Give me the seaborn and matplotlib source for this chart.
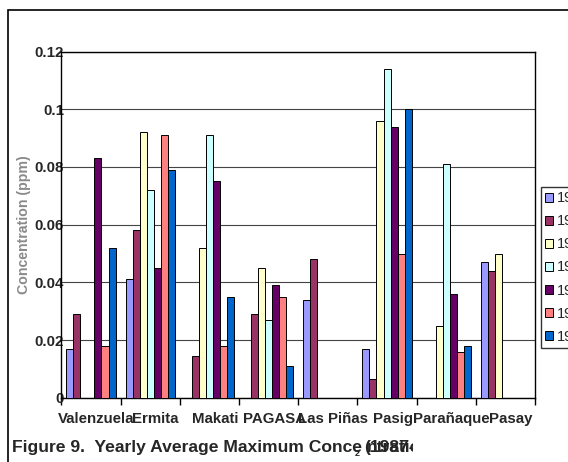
import pandas as pd
import numpy as np
import matplotlib
matplotlib.use('Agg')
import matplotlib.pyplot as plt
import matplotlib.transforms as mtransforms
from matplotlib.patches import Rectangle
import seaborn as sns

# %%
# stations and yearly series (NaN = no bar)
stations = ['Valenzuela', 'Ermita', 'Makati', 'PAGASA', 'Las Piñas', 'Pasig', 'Parañaque', 'Pasay']
years = ['1987', '1988', '1989', '1990', '1991', '1992', '1993']

y1987 = [0.017, 0.041, np.nan, np.nan, 0.034, 0.017, np.nan, 0.047]
y1988 = [0.029, 0.058, 0.0145, 0.029, 0.048, 0.0065, np.nan, 0.044]
y1989 = [np.nan, 0.092, 0.052, 0.045, np.nan, 0.096, 0.025, 0.050]
y1990 = [np.nan, 0.072, 0.091, 0.027, np.nan, 0.114, 0.081, np.nan]
y1991 = [0.083, 0.045, 0.075, 0.039, np.nan, 0.094, 0.036, np.nan]
y1992 = [0.018, 0.091, 0.018, 0.035, np.nan, 0.050, 0.016, np.nan]
y1993 = [0.052, 0.079, 0.035, 0.011, np.nan, 0.100, 0.018, np.nan]

colors = ['#9999FF', '#993366', '#FFFFCC', '#CCFFFF', '#660066', '#FF8080', '#0066CC']

# %%
# long format for seaborn
series = [y1987, y1988, y1989, y1990, y1991, y1992, y1993]
df = pd.DataFrame({
    'station': stations * len(years),
    'year': [y for y in years for _ in stations],
    'conc': [v for s in series for v in s],
})

sns.set_theme(style='white')
plt.rcParams['font.family'] = ['Liberation Sans', 'DejaVu Sans']

fig = plt.figure(figsize=(5.68, 4.62), dpi=100)
ax = fig.add_axes([0.108, 0.139, 0.834, 0.7495])

sns.barplot(data=df, x='station', y='conc', hue='year', order=stations, hue_order=years,
            palette=colors, saturation=1, width=0.83, edgecolor='black', linewidth=0.7,
            ax=ax, zorder=3)

ax.set_ylim(0, 0.12)
ax.set_xlim(-0.5, len(stations) - 0.5)
ax.set_yticks([0, 0.02, 0.04, 0.06, 0.08, 0.1, 0.12])
ax.set_yticklabels(['0', '0.02', '0.04', '0.06', '0.08', '0.1', '0.12'])
ax.yaxis.grid(True, color='#444444', linewidth=0.8, zorder=0)
ax.set_axisbelow(True)
ax.set_xlabel('')
ax.set_ylabel('')

for s in ax.spines.values():
    s.set_color('black')
    s.set_linewidth(1.0)

ax.tick_params(axis='y', length=0, pad=-2, labelsize=10.8)
for t in ax.get_yticklabels():
    t.set_fontweight('bold')
ax.tick_params(axis='x', which='major', length=0, pad=10, labelsize=10.8)
# labels sit a few pixels right of the category centres in the original
shift = mtransforms.ScaledTranslation(5.5 / 100, 0, fig.dpi_scale_trans)
for t in ax.get_xticklabels():
    t.set_fontweight('bold')
    t.set_transform(t.get_transform() + shift)

# tick marks between categories
ax.set_xticks(np.arange(-0.5, len(stations)), minor=True)
ax.tick_params(axis='x', which='minor', bottom=True, length=5, width=1, color='black', direction='out')

# legend, cut off by the figure edge like the original
handles, labels = ax.get_legend_handles_labels()
leg = ax.legend(handles, labels, loc='center left', bbox_to_anchor=(0.9525, 0.421),
                bbox_transform=fig.transFigure, frameon=True, fancybox=False,
                edgecolor='black', fontsize=10.5, handlelength=0.5, handleheight=0.6,
                handletextpad=0.3, borderpad=0.3, labelspacing=0.62, borderaxespad=0)
leg.get_frame().set_linewidth(1.0)

# y axis label (faint in the original)
fig.text(0.043, 0.514, 'Concentration (ppm)', rotation=90, ha='center', va='center',
         fontsize=10.2, fontweight='bold', color='#8a8a8a')

# caption with the overlapping pieces, clipped like the original text box
base_y = 1 - 452 / 462
cap = fig.text(0.0205, base_y, 'Figure 9.  Yearly Average Maximum Conce', fontsize=12.6,
               fontweight='bold', va='baseline')
fig.canvas.draw()
end_x = cap.get_window_extent().x1 / fig.bbox.width
clip = mtransforms.TransformedBbox(mtransforms.Bbox([[0, 0], [413 / 568, 1]]), fig.transFigure)
for txt, dx in [('(1987-1', 0.005), ('ntratio', 0.009)]:
    t = fig.text(end_x + dx, base_y, txt, fontsize=12.6, fontweight='bold', va='baseline')
    t.set_clip_box(clip)
    t.set_clip_on(True)
fig.text(end_x - 0.013, base_y - 0.009, '2', fontsize=6.5, fontweight='bold', va='baseline')

# outer frame
fig.patches.append(Rectangle((8 / 568, -0.2), 1.2, 1.2 - 10 / 462, transform=fig.transFigure,
                             fill=False, edgecolor='black', linewidth=1.2, clip_on=False))

fig.savefig('out.png', dpi=100)
